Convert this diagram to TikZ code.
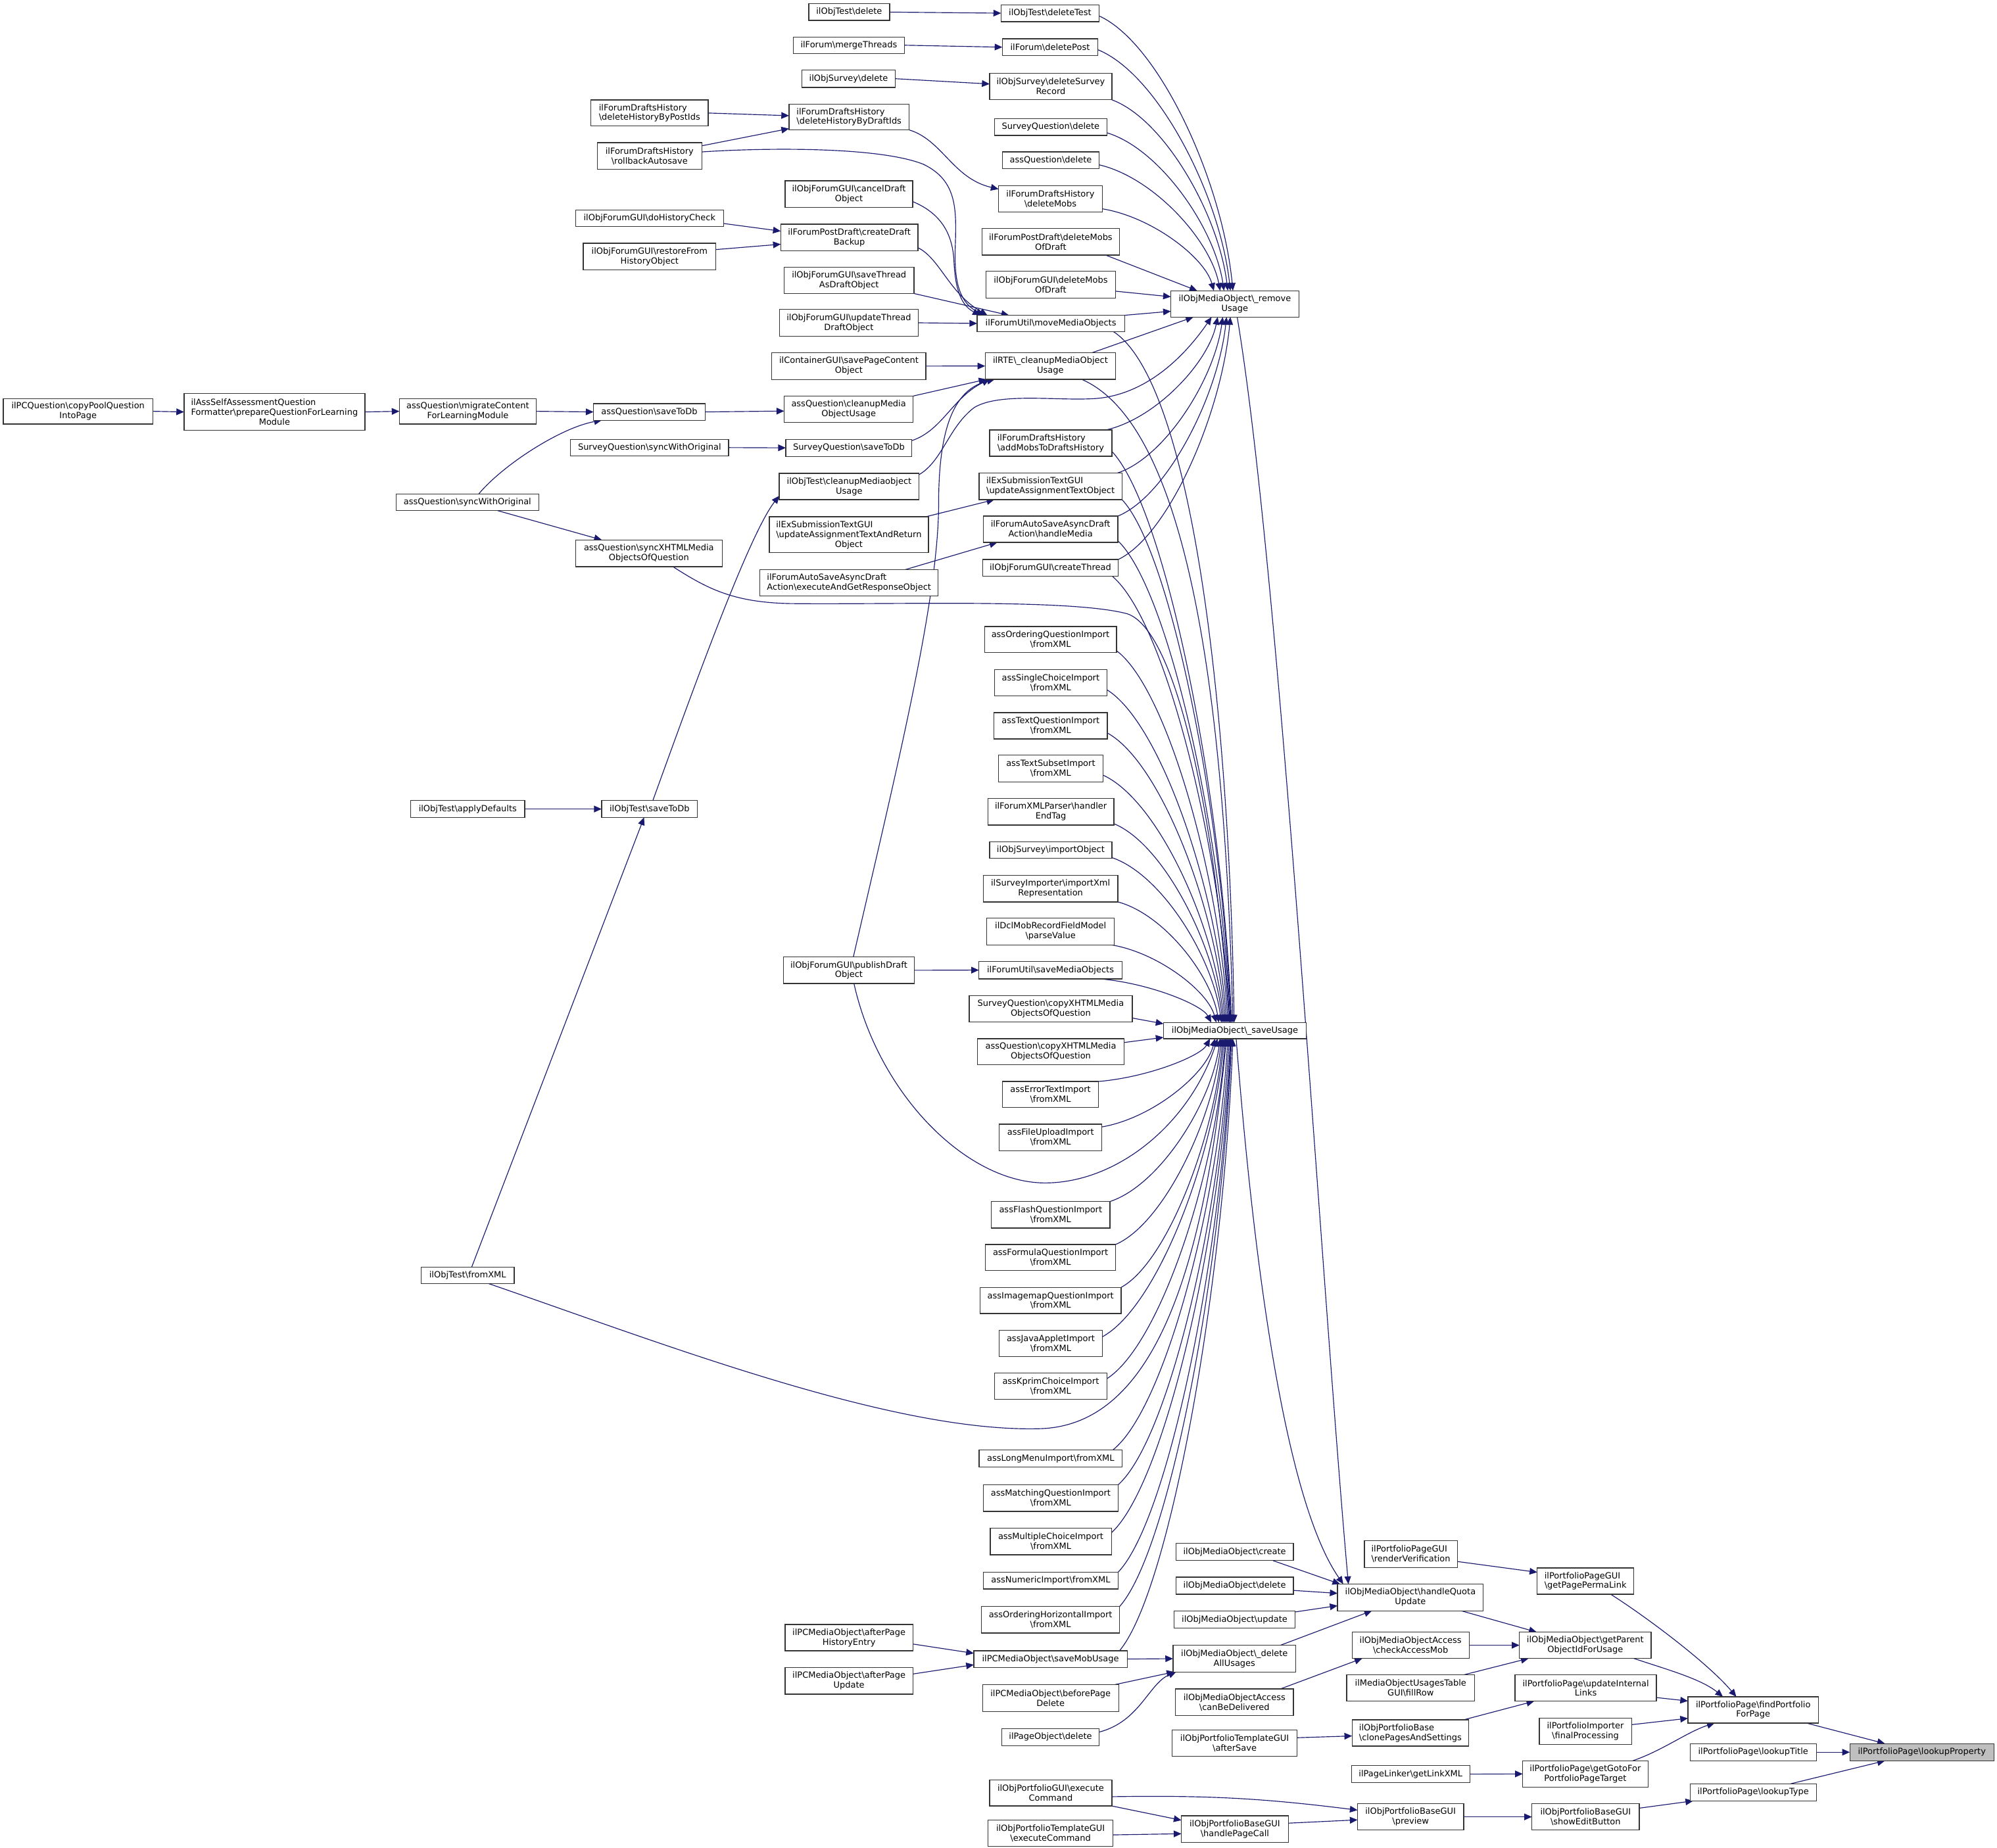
\documentclass[tikz,border=0pt]{standalone}
\usepackage{fontspec}
\setmainfont{DejaVu Sans}
\usetikzlibrary{arrows.meta,calc,backgrounds}
\pgfdeclarelayer{bottom}
\pgfsetlayers{bottom,background,main}
\definecolor{edgeblue}{RGB}{25,25,112}
\definecolor{hlgray}{RGB}{191,191,191}
\newcommand{\bsx}{\textbackslash}
\newcommand{\fstln}[2]{\begin{tabular}[b]{@{}l@{}}#1\\#2\end{tabular}}
\newcommand{\mkbox}[7][]{\node[box,#1,minimum width={(#5)-(#3)},minimum height={(#6)-(#4)}] (#2) at ({((#3)+(#5))/2},{((#4)+(#6))/2}) {#7};}
\tikzset{
  box/.style={draw=black!80, line width=0.65pt, fill=white, inner sep=0pt, outer sep=0pt, align=center,
    font=\fontsize{6.7}{7.7}\selectfont},
  e/.style={draw=edgeblue, line width=0.6pt, -{Triangle[length=6pt,width=5.2pt]}},
  fan/.style={to path={let \p1=(\tikztostart), \p2=(\tikztotarget) in
    .. controls ({\x1+0.45*(\x2-\x1)},{\y1+0.1*(\y2-\y1)}) and ({\x2-0.08*(\x2-\x1)},{\y2-0.4*(\y2-\y1)}) .. (\tikztotarget) \tikztonodes}}
}
\begin{document}
\begin{tikzpicture}[x=1pt,y=-1pt]
\useasboundingbox (0,0) rectangle (1568,1451);
\begin{pgfonlayer}{bottom}
\fill[white] (0,0) rectangle (1568,1451);
\end{pgfonlayer}

% ---------- nodes ----------
\mkbox{cpq}{2.6}{313}{120}{333}{ilPCQuestion\bsx copyPoolQuestion\\IntoPage}
\mkbox{prep}{144.5}{309}{286.5}{338}{\fstln{ilAssSelfAssessmentQuestion}{Formatter\bsx prepareQuestionForLearning}\\Module}
\mkbox{migr}{313.6}{313}{421}{333}{assQuestion\bsx migrateContent\\ForLearningModule}
\mkbox{aqsync}{311}{388}{423}{401}{assQuestion\bsx syncWithOriginal}
\mkbox{applyDef}{322.5}{628.7}{412}{642}{ilObjTest\bsx applyDefaults}
\mkbox{otFromXML}{330.7}{995}{403.7}{1008}{ilObjTest\bsx fromXML}

\mkbox[align=left]{dhbp}{464}{78.5}{556}{99}{ilForumDraftsHistory\\\bsx deleteHistoryByPostIds}
\mkbox{rba}{469}{112}{551}{133}{ilForumDraftsHistory\\\bsx rollbackAutosave}
\mkbox{dhc}{452}{165}{568}{178}{ilObjForumGUI\bsx doHistoryCheck}
\mkbox{rfh}{458}{191}{562}{212}{ilObjForumGUI\bsx restoreFrom\\HistoryObject}
\mkbox{aqsave}{466}{317}{553.6}{330}{assQuestion\bsx saveToDb}
\mkbox{sqsync}{448}{345}{572}{358}{SurveyQuestion\bsx syncWithOriginal}
\mkbox{syncx}{452}{424}{567}{445}{assQuestion\bsx syncXHTMLMedia\\ObjectsOfQuestion}
\mkbox{otsave}{472.4}{628.7}{547.6}{642}{ilObjTest\bsx saveToDb}

\mkbox{otdel}{635}{3}{698.5}{16}{ilObjTest\bsx delete}
\mkbox{merge}{623}{29}{710}{42}{ilForum\bsx mergeThreads}
\mkbox{osdel}{629.6}{55}{703}{68.6}{ilObjSurvey\bsx delete}
\mkbox[align=left]{dhbd}{619.5}{81.7}{713.8}{102}{ilForumDraftsHistory\\\bsx deleteHistoryByDraftIds}
\mkbox{cdo}{616.5}{142}{716.6}{163}{ilObjForumGUI\bsx cancelDraft\\Object}
\mkbox{cdb}{613}{176}{720.7}{197}{ilForumPostDraft\bsx createDraft\\Backup}
\mkbox{stad}{615.7}{210}{717.6}{230.5}{ilObjForumGUI\bsx saveThread\\AsDraftObject}
\mkbox{utd}{612}{243}{721}{264}{ilObjForumGUI\bsx updateThread\\DraftObject}
\mkbox{spc}{606}{277}{727}{298}{ilContainerGUI\bsx savePageContent\\Object}
\mkbox{aqclean}{615.7}{311}{717}{331.6}{assQuestion\bsx cleanupMedia\\ObjectUsage}
\mkbox{sqsave}{617}{345}{716}{358.4}{SurveyQuestion\bsx saveToDb}
\mkbox{otclean}{611.8}{371.7}{721.7}{392.4}{ilObjTest\bsx cleanupMediaobject\\Usage}
\mkbox{uatr}{604}{405.8}{729}{434}{\fstln{ilExSubmissionTextGUI}{\bsx updateAssignmentTextAndReturn}\\Object}
\mkbox[align=left]{eagr}{596.7}{447.4}{736.6}{468}{ilForumAutoSaveAsyncDraft\\Action\bsx executeAndGetResponseObject}
\mkbox{pdo}{615}{751.6}{718}{772.4}{ilObjForumGUI\bsx publishDraft\\Object}
\mkbox{apHist}{616.5}{1275.8}{716.7}{1296.4}{ilPCMediaObject\bsx afterPage\\HistoryEntry}
\mkbox{apUpd}{616.5}{1309.4}{716.7}{1330.5}{ilPCMediaObject\bsx afterPage\\Update}

\mkbox{delTest}{786}{3.7}{863}{17}{ilObjTest\bsx deleteTest}
\mkbox{delPost}{787}{30.4}{862}{43.7}{ilForum\bsx deletePost}
\mkbox{dsr}{777}{57.5}{873}{78.4}{ilObjSurvey\bsx deleteSurvey\\Record}
\mkbox{sqdel}{781}{93.3}{869}{106.4}{SurveyQuestion\bsx delete}
\mkbox{aqdel}{787}{119.3}{863}{132.4}{assQuestion\bsx delete}
\mkbox{dmobs}{784}{146}{865.5}{166.6}{ilForumDraftsHistory\\\bsx deleteMobs}
\mkbox{pdmod}{771}{179.4}{879}{200.3}{ilForumPostDraft\bsx deleteMobs\\OfDraft}
\mkbox{gdmod}{774}{213}{876}{234}{ilObjForumGUI\bsx deleteMobs\\OfDraft}
\mkbox{mmo}{767.2}{247.6}{883}{260.4}{ilForumUtil\bsx moveMediaObjects}
\mkbox{rte}{773.5}{277}{876}{297.9}{ilRTE\bsx\_cleanupMediaObject\\Usage}
\mkbox[align=left]{amdh}{777}{337.7}{873}{358.3}{ilForumDraftsHistory\\\bsx addMobsToDraftsHistory}
\mkbox[align=left]{uato}{768.7}{371.5}{881}{392.4}{ilExSubmissionTextGUI\\\bsx updateAssignmentTextObject}
\mkbox{hm}{772}{405.3}{877.7}{426}{ilForumAutoSaveAsyncDraft\\Action\bsx handleMedia}
\mkbox{ct}{771.5}{439.4}{878}{452.6}{ilObjForumGUI\bsx createThread}
\mkbox{oqi}{773}{492}{876.6}{512.5}{assOrderingQuestionImport\\\bsx fromXML}
\mkbox{sci}{781}{526}{869}{546.5}{assSingleChoiceImport\\\bsx fromXML}
\mkbox{tqi}{780.5}{559.6}{869.4}{580.3}{assTextQuestionImport\\\bsx fromXML}
\mkbox{tsi}{784}{593}{866}{614}{assTextSubsetImport\\\bsx fromXML}
\mkbox{fxp}{775.6}{627}{874.6}{648}{ilForumXMLParser\bsx handler\\EndTag}
\mkbox{osio}{777}{661}{873}{674}{ilObjSurvey\bsx importObject}
\mkbox{sixr}{772}{687.6}{877.7}{708.3}{ilSurveyImporter\bsx importXml\\Representation}
\mkbox{dcl}{774.8}{721}{875}{742}{ilDclMobRecordFieldModel\\\bsx parseValue}
\mkbox{smo}{768.6}{755}{881}{768.7}{ilForumUtil\bsx saveMediaObjects}
\mkbox{sqcx}{761}{782}{889}{802.5}{SurveyQuestion\bsx copyXHTMLMedia\\ObjectsOfQuestion}
\mkbox{aqcx}{767.4}{815.7}{882.7}{836.2}{assQuestion\bsx copyXHTMLMedia\\ObjectsOfQuestion}
\mkbox{eti}{787}{849.3}{862.6}{869.8}{assErrorTextImport\\\bsx fromXML}
\mkbox{fui}{784.6}{882.8}{865.2}{903.7}{assFileUploadImport\\\bsx fromXML}
\mkbox{fqi}{778.4}{943.6}{871.5}{964.4}{assFlashQuestionImport\\\bsx fromXML}
\mkbox{fmi}{773.6}{977.3}{876}{997.8}{assFormulaQuestionImport\\\bsx fromXML}
\mkbox{imi}{769.5}{1011}{880.3}{1031.6}{assImagemapQuestionImport\\\bsx fromXML}
\mkbox{jai}{784.6}{1044.8}{865.5}{1065.5}{assJavaAppletImport\\\bsx fromXML}
\mkbox{kci}{781}{1078.4}{869}{1099}{assKprimChoiceImport\\\bsx fromXML}
\mkbox{lmi}{768.7}{1138.7}{881.2}{1152.2}{assLongMenuImport\bsx fromXML}
\mkbox{mqi}{772}{1166}{878}{1187}{assMatchingQuestionImport\\\bsx fromXML}
\mkbox{mci}{777.5}{1200}{872.6}{1221}{assMultipleChoiceImport\\\bsx fromXML}
\mkbox{nui}{772}{1234.6}{878}{1247.9}{assNumericImport\bsx fromXML}
\mkbox{ohi}{770.6}{1261.6}{879.1}{1282.5}{assOrderingHorizontalImport\\\bsx fromXML}
\mkbox{smu}{764.6}{1296.4}{885}{1309.4}{ilPCMediaObject\bsx saveMobUsage}
\mkbox{bpd}{771.5}{1323}{878.3}{1344}{ilPCMediaObject\bsx beforePage\\Delete}
\mkbox{podel}{786.6}{1357.5}{863}{1371}{ilPageObject\bsx delete}
\mkbox{pgex}{777}{1397.7}{873}{1418.3}{ilObjPortfolioGUI\bsx execute\\Command}
\mkbox{ptex}{775.7}{1429.5}{874}{1450}{ilObjPortfolioTemplateGUI\\\bsx executeCommand}

\mkbox{ru}{919.3}{228.3}{1019.8}{249}{ilObjMediaObject\bsx\_remove\\Usage}
\mkbox{su}{913.5}{803}{1025.7}{815.7}{ilObjMediaObject\bsx\_saveUsage}
\mkbox{omcreate}{923.3}{1212}{1015.5}{1225.6}{ilObjMediaObject\bsx create}
\mkbox{omdelete}{923.3}{1238.6}{1015.5}{1252}{ilObjMediaObject\bsx delete}
\mkbox{omupdate}{922}{1265.2}{1016.7}{1278.7}{ilObjMediaObject\bsx update}
\mkbox{dau}{921}{1292.2}{1017.5}{1313}{ilObjMediaObject\bsx\_delete\\AllUsages}
\mkbox{cbd}{923}{1326.4}{1015.5}{1347.4}{ilObjMediaObjectAccess\\\bsx canBeDelivered}
\mkbox{ptas}{920.4}{1358.5}{1018.4}{1379.3}{ilObjPortfolioTemplateGUI\\\bsx afterSave}
\mkbox{hpc}{927.6}{1426}{1011.5}{1447}{ilObjPortfolioBaseGUI\\\bsx handlePageCall}

\mkbox{hqu}{1050.2}{1244}{1164.6}{1265}{ilObjMediaObject\bsx handleQuota\\Update}
\mkbox[align=left]{rv}{1071.3}{1209.8}{1144.2}{1231}{ilPortfolioPageGUI\\\bsx renderVerification}
\mkbox{cam}{1061.6}{1281.7}{1153.5}{1302.4}{ilObjMediaObjectAccess\\\bsx checkAccessMob}
\mkbox{fr}{1057.4}{1315.3}{1157.8}{1336}{ilMediaObjectUsagesTable\\GUI\bsx fillRow}
\mkbox[align=left]{cps}{1061.6}{1350.6}{1153.2}{1371.3}{ilObjPortfolioBase\\\bsx clonePagesAndSettings}
\mkbox{glx}{1061.2}{1386.6}{1154}{1400}{ilPageLinker\bsx getLinkXML}
\mkbox{prev}{1065.9}{1416.5}{1149.2}{1437.2}{ilObjPortfolioBaseGUI\\\bsx preview}

\mkbox[align=left]{gppl}{1207}{1231.3}{1282.8}{1252}{ilPortfolioPageGUI\\\bsx getPagePermaLink}
\mkbox{gpo}{1193}{1281.7}{1296.4}{1302.4}{ilObjMediaObject\bsx getParent\\ObjectIdForUsage}
\mkbox{uil}{1189.6}{1315.3}{1300.6}{1336}{ilPortfolioPage\bsx updateInternal\\Links}
\mkbox{fp}{1208.6}{1349.2}{1281}{1369.9}{ilPortfolioImporter\\\bsx finalProcessing}
\mkbox{ggf}{1195.6}{1382.8}{1293.9}{1403.4}{ilPortfolioPage\bsx getGotoFor\\PortfolioPageTarget}
\mkbox{seb}{1202.8}{1416.5}{1287.1}{1437.2}{ilObjPortfolioBaseGUI\\\bsx showEditButton}

\mkbox{fpp}{1325.3}{1332.5}{1427.8}{1353.2}{ilPortfolioPage\bsx findPortfolio\\ForPage}
\mkbox{lt}{1327}{1369.3}{1426.1}{1382.8}{ilPortfolioPage\bsx lookupTitle}
\mkbox{ltype}{1327}{1400.9}{1426.1}{1414.3}{ilPortfolioPage\bsx lookupType}
\mkbox[fill=hlgray]{lp}{1452.4}{1369.3}{1565.6}{1382.8}{ilPortfolioPage\bsx lookupProperty}

% ---------- edges ----------
\begin{pgfonlayer}{background}
% top-left
\draw[e] (otdel.east) -- (delTest.west);
\draw[e] (merge.east) -- (delPost.west);
\draw[e] (osdel.east) -- ($(dsr.west)+(0,-2)$);
\draw[e] (dhbp.east) -- ($(dhbd.west)+(0,-1)$);
\draw[e] ($(rba.north east)+(0,2.5)$) -- ($(dhbd.south west)+(0,-1)$);
\draw[e] ($(rba.east)+(0,-3.2)$) .. controls (600,116) and (690,115) .. (725,129) .. controls (752,142) and (751,165) .. (750,195) .. controls (749,225) and (755,238) .. ($(mmo.north west)+(5,0)$);
\draw[e] ($(dhc.east)+(0,4)$) -- ($(cdb.west)+(0,-5)$);
\draw[e] ($(rfh.east)+(0,-5.5)$) -- ($(cdb.west)+(0,5.3)$);
\draw[e] (dhbd.south east) .. controls (740,110) and (748,140) .. ($(dmobs.north west)+(0,2.5)$);
\draw[e] ($(cdo.east)+(0,5.8)$) .. controls (740,168) and (748,185) .. (749,205) .. controls (750,228) and (755,240) .. ($(mmo.north west)+(2.5,0)$);
\draw[e] ($(cdb.east)+(0,8)$) .. controls (738,203) and (745,230) .. ($(mmo.north west)+(8,0)$);
\draw[e] (stad.south east) -- ($(mmo.north west)+(25,0)$);
\draw[e] (utd.east) -- (mmo.west);
\draw[e] (spc.east) -- (rte.west);
\draw[e] (aqclean.north east) -- ($(rte.south west)+(1,0)$);
\draw[e] ($(sqsave.north east)+(0,1)$) .. controls (740,338) and (748,312) .. ($(rte.south west)+(3.5,0)$);
\draw[e] ($(pdo.north)+(3.5,0)$) .. controls (705,600) and (737,470) .. (737,395) .. controls (737,330) and (752,305) .. ($(rte.south west)+(7.5,0)$);
% left chain
\draw[e] (cpq.east) -- (prep.west);
\draw[e] (prep.east) -- (migr.west);
\draw[e] (migr.east) -- (aqsave.west);
\draw[e] (aqsave.east) -- ($(aqclean.west)+(0,1.5)$);
\draw[e] (sqsync.east) -- (sqsave.west);
\draw[e] ($(aqsync.north)+(8.8,0)$) .. controls (395,365) and (440,336) .. ($(aqsave.south west)+(6.5,0)$);
\draw[e] ($(aqsync.south)+(23.7,0)$) -- ($(syncx.north west)+(20.5,0)$);
\draw[e] ($(syncx.south)+(18.8,0)$) .. controls (555,462) and (575,473) .. (620,474) .. controls (700,475) and (840,470) .. (885,482) .. controls (925,495) and (955,650) .. ($(su.north)+(-4.6,0)$);
\draw[e] (applyDef.east) -- (otsave.west);
\draw[e] ($(otFromXML.north)+(3.2,0)$) -- ($(otsave.south)+(-4.3,0)$);
\draw[e] ($(otsave.north)+(2.6,0)$) .. controls (545,539) and (588,420) .. ($(otclean.south west)+(0,-3)$);
\draw[e] ($(otclean.north east)+(0,1)$) .. controls (740,362) and (745,335) .. (765,320) .. controls (785,308) and (830,315) .. (860,313) .. controls (900,310) and (930,280) .. ($(ru.south west)+(32,0)$);
\draw[e] ($(uatr.north east)+(-2,0)$) -- ($(uato.south west)+(12,0)$);
\draw[e] ($(eagr.north east)+(-26,0)$) -- ($(hm.south west)+(11,0)$);
\draw[e] (pdo.east) -- (smo.west);
\draw[e] ($(pdo.south)+(4,0)$) .. controls (690,860) and (760,930) .. (822,929) .. controls (880,928) and (935,880) .. ($(su.south)+(-13.6,0)$);
\draw[e] ($(otFromXML.south)+(16.3,0)$) .. controls (520,1055) and (700,1125) .. (816,1122) .. controls (905,1120) and (945,1000) .. ($(su.south)+(-6.6,0)$);
% into _removeUsage
\draw[e] ($(rte.north east)+(-18.5,0)$) -- ($(ru.south west)+(17.7,0)$);
\draw[e] (mmo.north east) -- ($(ru.west)+(0,5.8)$);
\draw[e] ($(gdmod.east)+(0,5.2)$) -- ($(ru.west)+(0,-5.6)$);
\draw[e] ($(pdmod.south east)+(-11,0)$) -- ($(ru.north west)+(20.7,0)$);
\draw[e] ($(delTest.east)+(0,2.15)$) to[fan] ($(ru.north)+(-1.5,0)$);
\draw[e] ($(delPost.east)+(0,2)$) to[fan] ($(ru.north)+(-3.5,0)$);
\draw[e] (dsr.south east) to[fan] ($(ru.north)+(-5.5,0)$);
\draw[e] ($(sqdel.east)+(0,4.4)$) to[fan] ($(ru.north)+(-8.5,0)$);
\draw[e] ($(aqdel.east)+(0,3.6)$) to[fan] ($(ru.north)+(-11.5,0)$);
\draw[e] ($(dmobs.east)+(0,7.7)$) to[fan] ($(ru.north)+(-16.5,0)$);
\draw[e] ($(amdh.north east)+(-4.8,0)$) to[fan] ($(ru.south)+(-13.5,0)$);
\draw[e] ($(uato.north east)+(-3.7,0)$) to[fan] ($(ru.south)+(-9.5,0)$);
\draw[e] (hm.north east) to[fan] ($(ru.south)+(-6.5,0)$);
\draw[e] (ct.north east) to[fan] ($(ru.south)+(-3.5,0)$);
% into _saveUsage from above
\draw[e] ($(amdh.east)+(0,6.5)$) to[fan] ($(su.north)+(-2.6,0)$);
\draw[e] (uato.south east) to[fan] ($(su.north)+(-3.1,0)$);
\draw[e] ($(hm.south east)+(0,-1.3)$) to[fan] ($(su.north)+(-3.6,0)$);
\draw[e] ($(ct.south east)+(-4.6,0)$) to[fan] ($(su.north)+(-4.1,0)$);
\draw[e] ($(rte.south)+(24.5,0)$) .. controls (935,335) and (962,560) .. ($(su.north)+(-1.6,0)$);
\draw[e] ($(mmo.south east)+(-8.8,0)$) .. controls (935,300) and (965,550) .. ($(su.north)+(-0.6,0)$);
\draw[e] ($(oqi.east)+(0,8.75)$) to[fan] ($(su.north)+(-5.6,0)$);
\draw[e] ($(sci.east)+(0,5.35)$) to[fan] ($(su.north)+(-6.6,0)$);
\draw[e] ($(tqi.east)+(0,5.65)$) to[fan] ($(su.north)+(-7.6,0)$);
\draw[e] ($(tsi.east)+(0,5.2)$) to[fan] ($(su.north)+(-8.6,0)$);
\draw[e] ($(fxp.east)+(0,9.4)$) to[fan] ($(su.north)+(-9.6,0)$);
\draw[e] ($(osio.east)+(0,6)$) to[fan] ($(su.north)+(-10.6,0)$);
\draw[e] (sixr.south east) to[fan] ($(su.north)+(-12.6,0)$);
\draw[e] ($(dcl.south east)+(-2.7,0)$) to[fan] ($(su.north)+(-14.6,0)$);
\draw[e] ($(smo.south east)+(-17.6,0)$) to[fan] ($(su.north)+(-18.6,0)$);
\draw[e] ($(sqcx.south east)+(0,-3)$) -- ($(su.north west)+(0,1)$);
\draw[e] ($(aqcx.north east)+(0,3)$) -- ($(su.south west)+(0,-1)$);
% into _saveUsage from below
\draw[e] (eti.north east) to[fan] ($(su.south)+(-19.6,0)$);
\draw[e] ($(fui.north east)+(0,2.2)$) to[fan] ($(su.south)+(-15.6,0)$);
\draw[e] (fqi.north east) to[fan] ($(su.south)+(-11.6,0)$);
\draw[e] (fmi.north east) to[fan] ($(su.south)+(-10.6,0)$);
\draw[e] (imi.north east) to[fan] ($(su.south)+(-9.6,0)$);
\draw[e] ($(jai.east)+(0,-5.3)$) to[fan] ($(su.south)+(-8.6,0)$);
\draw[e] ($(kci.east)+(0,-5.9)$) to[fan] ($(su.south)+(-7.6,0)$);
\draw[e] ($(lmi.north east)+(-7.4,0)$) to[fan] ($(su.south)+(-5.6,0)$);
\draw[e] (mqi.north east) to[fan] ($(su.south)+(-4.6,0)$);
\draw[e] ($(mci.east)+(0,-6.7)$) to[fan] ($(su.south)+(-3.6,0)$);
\draw[e] (nui.north east) to[fan] ($(su.south)+(-3.1,0)$);
\draw[e] (ohi.north east) to[fan] ($(su.south)+(-2.6,0)$);
\draw[e] ($(smu.north east)+(-6,0)$) to[fan] ($(su.south)+(-1.6,0)$);
% bottom region
\draw[e] ($(apHist.east)+(0,5)$) -- ($(smu.west)+(0,-4.5)$);
\draw[e] ($(apUpd.east)+(0,-5.3)$) -- ($(smu.west)+(0,4.5)$);
\draw[e] (smu.east) -- (dau.west);
\draw[e] ($(bpd.north east)+(-3,0)$) -- ($(dau.south west)+(1,0)$);
\draw[e] ($(podel.east)+(0,-4)$) .. controls (895,1352) and (902,1322) .. ($(dau.south west)+(2.5,0)$);
\draw[e] ($(omcreate.south east)+(-16,0)$) -- ($(hqu.north west)+(2,0)$);
\draw[e] ($(omdelete.east)+(0,3.7)$) -- ($(hqu.west)+(0,-3.2)$);
\draw[e] ($(omupdate.east)+(0,-6)$) -- ($(hqu.west)+(0,6.5)$);
\draw[e] ($(dau.north east)+(-12.5,0)$) -- ($(hqu.south west)+(27,0)$);
\draw[e] ($(su.south)+(1,0)$) .. controls (985,1000) and (1010,1180) .. ($(hqu.north west)+(4.5,0)$);
\draw[e] ($(ru.south)+(1.85,0)$) .. controls (1005,450) and (1037,1000) .. ($(hqu.north west)+(8.5,0)$);
\draw[e] ($(cbd.north east)+(-10.3,0)$) -- ($(cam.south west)+(8,0)$);
\draw[e] (cam.east) -- (gpo.west);
\draw[e] ($(fr.north east)+(-8.5,0)$) -- ($(gpo.south west)+(7.2,0)$);
\draw[e] ($(hqu.south east)+(-17.4,0)$) -- ($(gpo.north west)+(13.5,0)$);
\draw[e] ($(rv.east)+(0,5.9)$) -- ($(gppl.west)+(0,-6.9)$);
\draw[e] ($(gppl.south east)+(-18.2,0)$) .. controls (1290,1268) and (1340,1305) .. ($(fpp.north west)+(38,0)$);
\draw[e] ($(gpo.south east)+(-13.6,0)$) .. controls (1305,1310) and (1335,1318) .. ($(fpp.north west)+(27.5,0)$);
\draw[e] ($(uil.east)+(0,7.5)$) -- ($(fpp.west)+(0,-7)$);
\draw[e] ($(fp.east)+(0,-5.1)$) -- ($(fpp.west)+(0,6.6)$);
\draw[e] ($(ggf.north east)+(-12,0)$) .. controls (1305,1375) and (1325,1360) .. ($(fpp.south west)+(21,0)$);
\draw[e] ($(fpp.south east)+(-9.4,0)$) -- ($(lp.north west)+(27.6,0)$);
\draw[e] (lt.east) -- (lp.west);
\draw[e] ($(ltype.north east)+(-20.3,0)$) -- ($(lp.south west)+(27.6,0)$);
\draw[e] ($(seb.east)+(0,-6.85)$) -- ($(ltype.south west)+(2.4,0)$);
\draw[e] (prev.east) -- (seb.west);
\draw[e] ($(hpc.east)+(0,-4.7)$) -- ($(prev.west)+(0,2.35)$);
\draw[e] ($(pgex.east)+(0,3)$) to[bend left=4] ($(prev.west)+(0,-5.3)$);
\draw[e] (pgex.south east) -- ($(hpc.north west)+(0,3.5)$);
\draw[e] ($(ptex.east)+(0,1.25)$) -- ($(hpc.west)+(0,3.6)$);
\draw[e] ($(ptas.east)+(0,-4.2)$) -- ($(cps.west)+(0,2.35)$);
\draw[e] ($(cps.north east)+(-3.9,0)$) -- ($(uil.south west)+(15,0)$);
\draw[e] (glx.east) -- (ggf.west);
\end{pgfonlayer}
\end{tikzpicture}
\end{document}
